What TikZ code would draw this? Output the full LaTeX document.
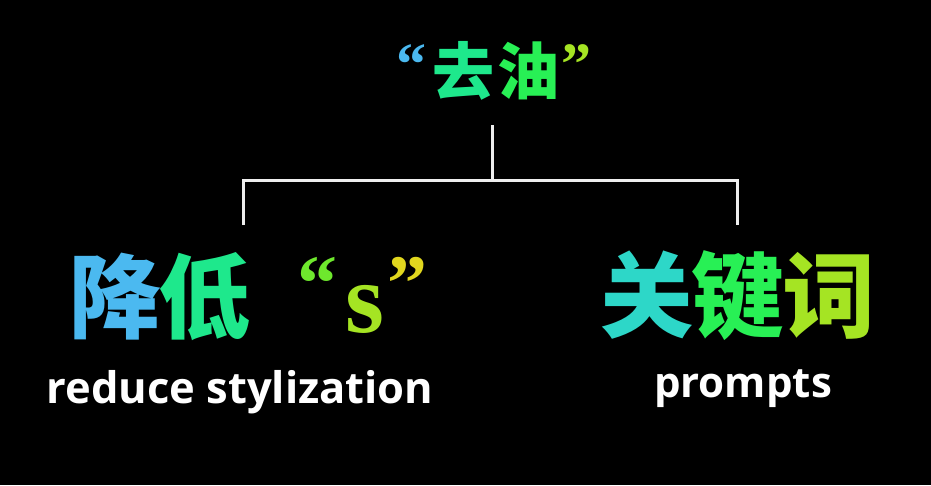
\documentclass[tikz,border=0pt]{standalone}
\usepackage{fontspec}
\newfontfamily\cjk{Noto Sans CJK SC}
\newfontfamily\serifq{Liberation Serif}
\newfontfamily\osans{Open Sans}
\definecolor{cA}{RGB}{75,185,240}
\definecolor{cB}{RGB}{45,215,200}
\definecolor{cC}{RGB}{30,232,140}
\definecolor{cD}{RGB}{40,240,85}
\definecolor{cE}{RGB}{110,232,45}
\definecolor{cF}{RGB}{165,228,35}
\definecolor{cG}{RGB}{225,215,30}
\definecolor{linegray}{RGB}{238,238,238}
\tikzset{
  glyph/.style={inner sep=0pt, outer sep=0pt, anchor=base},
  hantitle/.style={glyph, font=\cjk\bfseries\fontsize{62}{62}\selectfont},
  quotetitle/.style={glyph, font=\serifq\bfseries\fontsize{60}{60}\selectfont},
  hanbig/.style={glyph, font=\cjk\bfseries\fontsize{92}{92}\selectfont},
  quotebig/.style={glyph, font=\serifq\bfseries\fontsize{80}{80}\selectfont},
  letterbig/.style={glyph, font=\serifq\bfseries\fontsize{100}{100}\selectfont},
  conn/.style={draw=linegray, line width=3pt, line join=miter},
  subtitle/.style={text=white, inner sep=0pt, anchor=base}
}
\begin{document}
\begin{tikzpicture}[x=1pt,y=-1pt]
\useasboundingbox (0,0) rectangle (931,485);
\fill[black] (0,0) rectangle (931,485);
% title
\node[quotetitle, text=cA] (tq1) at (411.5,84) {“};
\node[hantitle, text=cC] (t1) at (463,94) {去};
\node[hantitle, text=cD] (t2) at (528,94) {油};
\node[quotetitle, text=cF] (tq2) at (576,84) {”};
% left child
\node[hanbig, text=cA] (l1) at (115,331) {降};
\node[hanbig, text=cC] (l2) at (204,331) {低};
\node[quotebig, text=cE] (lq1) at (317.5,310) {“};
\node[letterbig, text=cF] (ls) at (365,332) {s};
\node[quotebig, text=cG] (lq2) at (407.5,310) {”};
% right child
\node[hanbig, font=\cjk\bfseries\fontsize{93}{93}\selectfont, text=cB] (r1) at (647,330.5) {关};
\node[hanbig, font=\cjk\bfseries\fontsize{93}{93}\selectfont, text=cD] (r2) at (738,330.5) {键};
\node[hanbig, font=\cjk\bfseries\fontsize{93}{93}\selectfont, text=cF] (r3) at (829,330.5) {词};
% connectors
\coordinate (top) at (492,125);
\coordinate (hub) at (492,180);
\coordinate (lend) at (243,225);
\coordinate (rend) at (737,225);
\draw[conn] (top) -- (hub);
\draw[conn] (lend) |- (hub) -| (rend);
% subtitles
\node[subtitle, font=\osans\bfseries\fontsize{43.5}{44}\selectfont] (lsub) at (240,403) {reduce stylization};
\node[subtitle, font=\osans\bfseries\fontsize{42}{42}\selectfont] (rsub) at (743,397) {prompts};
\end{tikzpicture}
\end{document}
